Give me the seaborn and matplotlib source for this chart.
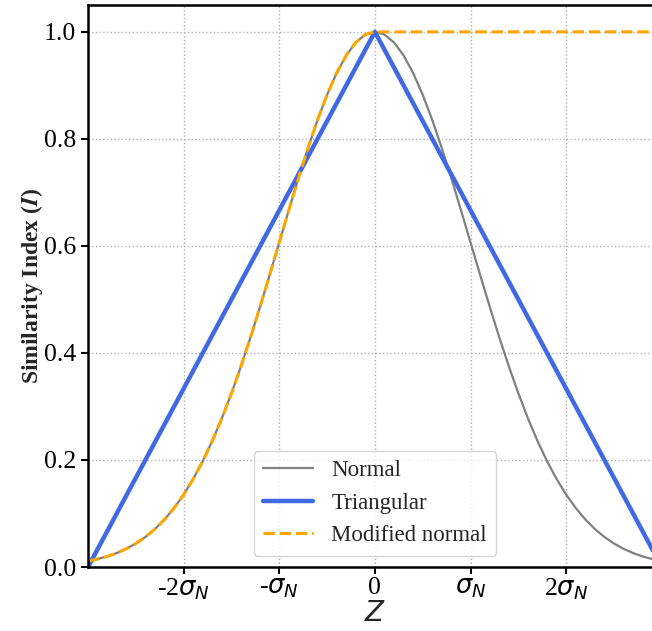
import numpy as np
import pandas as pd
import matplotlib
matplotlib.use("Agg")
import matplotlib.pyplot as plt
import seaborn as sns

# z positions (units of sigma_N) and curve values
z_vals = [-3.0, -2.9, -2.8, -2.7, -2.6, -2.5, -2.4, -2.3, -2.2, -2.1,
          -2.0, -1.9, -1.8, -1.7, -1.6, -1.5, -1.4, -1.3, -1.2, -1.1,
          -1.0, -0.9, -0.8, -0.7, -0.6, -0.5, -0.4, -0.3, -0.2, -0.1,
          0.0, 0.1, 0.2, 0.3, 0.4, 0.5, 0.6, 0.7, 0.8, 0.9,
          1.0, 1.1, 1.2, 1.3, 1.4, 1.5, 1.6, 1.7, 1.8, 1.9,
          2.0, 2.1, 2.2, 2.3, 2.4, 2.5, 2.6, 2.7, 2.8, 2.9, 3.0]
normal_vals = [0.0111, 0.0149, 0.0198, 0.0261, 0.0340, 0.0439, 0.0561, 0.0710, 0.0889, 0.1103,
               0.1353, 0.1645, 0.1979, 0.2357, 0.2780, 0.3247, 0.3753, 0.4296, 0.4868, 0.5461,
               0.6065, 0.6670, 0.7261, 0.7827, 0.8353, 0.8825, 0.9231, 0.9560, 0.9802, 0.9950,
               1.0000, 0.9950, 0.9802, 0.9560, 0.9231, 0.8825, 0.8353, 0.7827, 0.7261, 0.6670,
               0.6065, 0.5461, 0.4868, 0.4296, 0.3753, 0.3247, 0.2780, 0.2357, 0.1979, 0.1645,
               0.1353, 0.1103, 0.0889, 0.0710, 0.0561, 0.0439, 0.0340, 0.0261, 0.0198, 0.0149, 0.0111]
tri_z = [-3.0, 0.0, 3.0]
tri_vals = [0.0, 1.0, 0.0]
mod_z = z_vals[:31] + [3.0]
mod_vals = normal_vals[:31] + [1.0]

xtick_pos = [-2, -1, 0, 1, 2]
xtick_labels = [r"-2$\sigma_N$", r"-$\sigma_N$", "0", r"$\sigma_N$", r"2$\sigma_N$"]
ytick_pos = [0.0, 0.2, 0.4, 0.6, 0.8, 1.0]

sns.set_style("whitegrid", {"grid.linestyle": ":", "grid.color": "#b0b0b0",
                            "axes.edgecolor": "black", "xtick.bottom": True, "ytick.left": True})
plt.rcParams['font.family'] = ['Liberation Serif', 'DejaVu Sans']
plt.rcParams['mathtext.fontset'] = 'dejavusans'

fig = plt.figure(figsize=(6.52, 6.31), dpi=100)
ax = fig.add_axes([0.135, 0.1014, 0.880, 0.8905])

sns.lineplot(x=z_vals, y=normal_vals, ax=ax, color="gray", linewidth=1.6, label="Normal")
sns.lineplot(x=tri_z, y=tri_vals, ax=ax, color="royalblue", linewidth=3.2, label="Triangular")
sns.lineplot(x=mod_z, y=mod_vals, ax=ax, color="orange", linewidth=2.2, linestyle="--",
             label="Modified normal")

ax.set_xlim(-3, 3)
ax.set_ylim(0, 1.05)
ax.set_xticks(xtick_pos)
ax.set_xticklabels(xtick_labels)
ax.set_yticks(ytick_pos)
ax.set_yticklabels([f"{v:.1f}" for v in ytick_pos])
ax.tick_params(axis="both", labelsize=18.5, direction="out", length=5, width=1.5, colors="black")
ax.tick_params(axis="x", pad=2)
ax.grid(True, linestyle=":", color="#b0b0b0", linewidth=1.0)

for s in ax.spines.values():
    s.set_color("black")
    s.set_linewidth(1.8)

ax.set_xlabel(r"$Z$", fontsize=20, labelpad=0)
ax.set_ylabel(r"Similarity Index ($\mathbfit{I}$)", fontsize=17, fontweight="bold",
              math_fontfamily="stix", labelpad=-1)

ax.legend(loc="lower center", fontsize=16.5, frameon=True, framealpha=0.8, handlelength=2.2)

fig.savefig("out.png", dpi=100)
